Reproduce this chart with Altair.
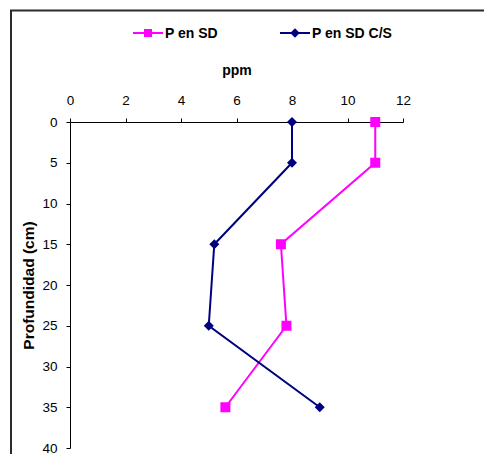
import altair as alt
import pandas as pd

# ---- data ----
depths = [0, 5, 15, 25, 35]
series_names = ["P en SD", "P en SD C/S"]
p_sd = [11.0, 11.0, 7.6, 7.8, 5.6]
p_sd_cs = [8.0, 8.0, 5.2, 5.0, 9.0]
series_colors = ["#FF00FF", "#000080"]
series_shapes = ["square", "diamond"]
x_ticks = [0, 2, 4, 6, 8, 10, 12]
y_ticks = [0, 5, 10, 15, 20, 25, 30, 35, 40]

FONT = "Liberation Sans"

rows = []
for name, vals in zip(series_names, [p_sd, p_sd_cs]):
    for d, v in zip(depths, vals):
        rows.append({"serie": name, "prof": d, "ppm": v})
df = pd.DataFrame(rows)

W, H = 333, 326

x_enc = alt.X(
    "ppm:Q",
    scale=alt.Scale(domain=[0, 12], nice=False, zero=False),
    axis=alt.Axis(
        orient="top", values=x_ticks, title="ppm", grid=False,
        tickSize=4, labelPadding=11, titlePadding=16,
        labelFont=FONT, labelFontSize=13.5, labelColor="#000000",
        titleFont=FONT, titleFontSize=14, titleFontWeight="bold", titleColor="#000000",
        domainColor="#000000", tickColor="#000000", labelFlush=False,
    ),
)
y_enc = alt.Y(
    "prof:Q",
    scale=alt.Scale(domain=[0, 40], reverse=True, nice=False, zero=False),
    axis=alt.Axis(
        values=y_ticks, title="Profundidad (cm)", grid=False,
        tickSize=4, labelPadding=9, titlePadding=5,
        labelFont=FONT, labelFontSize=13.5, labelColor="#000000",
        titleFont=FONT, titleFontSize=15.5, titleFontWeight="bold", titleColor="#000000",
        domainColor="#000000", tickColor="#000000", labelFlush=False,
    ),
)
color_enc = alt.Color(
    "serie:N",
    scale=alt.Scale(domain=series_names, range=series_colors),
    legend=None,
)
shape_enc = alt.Shape(
    "serie:N",
    scale=alt.Scale(domain=series_names, range=series_shapes),
    legend=None,
)

layers = []
for name in series_names:
    sub = df[df["serie"] == name]
    base = alt.Chart(sub)
    layers.append(
        base.mark_line(strokeWidth=2).encode(
            x=x_enc, y=y_enc, color=color_enc, order="prof:Q"
        )
    )
for name in series_names:
    sub = df[df["serie"] == name]
    base = alt.Chart(sub)
    layers.append(
        base.mark_point(filled=True, opacity=1, size=100).encode(
            x=x_enc, y=y_enc, color=color_enc, shape=shape_enc
        )
    )

# ---- manual legend (top) ----
leg_x0 = [63, 210]
for i, (name, col, shp) in enumerate(zip(series_names, series_colors, series_shapes)):
    one = alt.Chart(pd.DataFrame({"serie": [name]}))
    x0 = leg_x0[i]
    layers.append(
        one.mark_rule(color=col, strokeWidth=2).encode(
            x=alt.value(x0), x2=alt.value(x0 + 30), y=alt.value(-89)
        )
    )
    layers.append(
        one.mark_point(filled=True, opacity=1, color=col, shape=shp,
                       size=64 if shp == "square" else 90).encode(
            x=alt.value(x0 + 15), y=alt.value(-89)
        )
    )
    layers.append(
        one.mark_text(align="left", baseline="middle", font=FONT, fontSize=14,
                      fontWeight="bold", color="#000000").encode(
            x=alt.value(x0 + 32), y=alt.value(-88.5), text="serie:N"
        )
    )

# ---- outer chart frame ----
frame = alt.Chart(pd.DataFrame({"f": [0]})).mark_rect(
    fill=None, fillOpacity=0, stroke="#2b2b2b", strokeWidth=2
).encode(
    x=alt.value(-59), x2=alt.value(430), y=alt.value(-111.5), y2=alt.value(345)
)

chart = alt.layer(frame, *layers).properties(
    width=W, height=H,
    autosize=alt.AutoSizeParams(type="none"),
    padding={"left": 70, "top": 122, "right": 484 - 70 - W, "bottom": 454 - 122 - H},
    background="#ffffff",
).configure_view(stroke=None)

chart.save("out.html", embed_options={"renderer": "svg", "actions": False})
